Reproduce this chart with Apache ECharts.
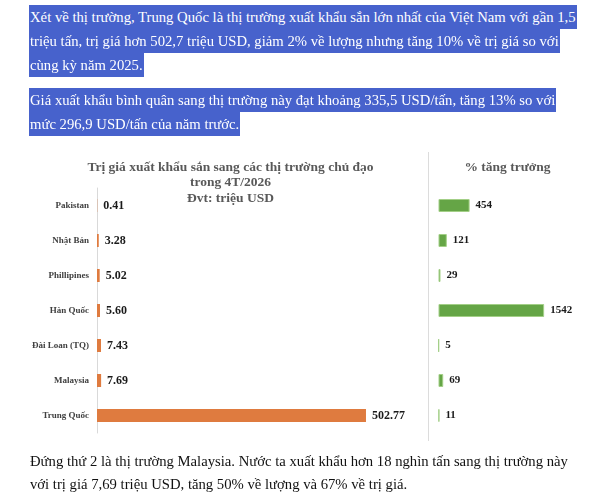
<!DOCTYPE html>
<html>
<head>
<meta charset="utf-8">
<script src="https://cdn.jsdelivr.net/npm/echarts@6/dist/echarts.min.js"></script>
<style>
  html, body { margin: 0; padding: 0; background: #ffffff; }
  #wrap { position: relative; width: 607px; height: 500px; overflow: hidden; }
  #chart { position: absolute; left: 0; top: 0; width: 607px; height: 500px; }
  .ln { position: absolute; white-space: nowrap; font-family: 'Liberation Serif', 'Times New Roman', serif; font-size: 14.7px; }
  .hl { background: #4762cc; color: #ffffff; height: 24px; line-height: 24px; padding: 0 1px; }
  .pl { color: #111111; height: 23px; line-height: 23px; }
</style>
</head>
<body>
<div id="wrap">
  <div id="chart"></div>
  <div class="ln hl" style="left:29px; top:5px;">Xét về thị trường, Trung Quốc là thị trường xuất khẩu sắn lớn nhất của Việt Nam với gần 1,5</div>
  <div class="ln hl" style="left:29px; top:29px;">triệu tấn, trị giá hơn 502,7 triệu USD, giảm 2% về lượng nhưng tăng 10% về trị giá so với</div>
  <div class="ln hl" style="left:29px; top:53px;">cùng kỳ năm 2025.</div>
  <div class="ln hl" style="left:29px; top:88px;">Giá xuất khẩu bình quân sang thị trường này đạt khoảng 335,5 USD/tấn, tăng 13% so với</div>
  <div class="ln hl" style="left:29px; top:112px;">mức 296,9 USD/tấn của năm trước.</div>
  <div class="ln pl" style="left:30px; top:450px;">Đứng thứ 2 là thị trường Malaysia. Nước ta xuất khẩu hơn 18 nghìn tấn sang thị trường này</div>
  <div class="ln pl" style="left:30px; top:473px;">với trị giá 7,69 triệu USD, tăng 50% về lượng và 67% về trị giá.</div>
</div>
<script>
const categories = ['Pakistan', 'Nhật Bản', 'Phillipines', 'Hàn Quốc', 'Đài Loan (TQ)', 'Malaysia', 'Trung Quốc'];
const exportValue = [0.41, 3.28, 5.02, 5.60, 7.43, 7.69, 502.77];
const growthPct = [454, 121, 29, 1542, 5, 69, 11];
const leftTitle = 'Trị giá xuất khẩu sắn sang các thị trường chủ đạo\ntrong 4T/2026\nĐvt: triệu USD';
const rightTitle = '% tăng trưởng';

const SERIF = "'Liberation Serif', 'Times New Roman', serif";
const chart = echarts.init(document.getElementById('chart'), null, { renderer: 'canvas' });

chart.setOption({
  animation: false,
  backgroundColor: 'transparent',
  grid: [
    { left: 97, top: 188, width: 321, height: 245, containLabel: false },
    { left: 438.5, top: 188, width: 137, height: 245, containLabel: false }
  ],
  xAxis: [
    { gridIndex: 0, type: 'value', min: 0, max: 600, show: false },
    { gridIndex: 1, type: 'value', min: 0, max: 2000, show: false }
  ],
  yAxis: [
    {
      gridIndex: 0, type: 'category', inverse: true, data: categories,
      axisLine: { show: true, lineStyle: { color: '#d9d9d9', width: 1 } },
      axisTick: { show: false },
      splitLine: { show: false },
      axisLabel: { margin: 8, fontFamily: SERIF, fontWeight: 'bold', fontSize: 9, color: '#404040' }
    },
    {
      gridIndex: 1, type: 'category', inverse: true, data: categories,
      show: false
    }
  ],
  graphic: [
    {
      type: 'text', x: 230.5, y: 159.5, silent: true,
      style: {
        text: leftTitle, align: 'center', verticalAlign: 'top',
        fontFamily: SERIF, fontWeight: 'bold', fontSize: 13.5, lineHeight: 15.5, fill: '#595959'
      }
    },
    {
      type: 'text', x: 507.5, y: 159.5, silent: true,
      style: {
        text: rightTitle, align: 'center', verticalAlign: 'top',
        fontFamily: SERIF, fontWeight: 'bold', fontSize: 13.5, lineHeight: 15.5, fill: '#595959'
      }
    },
    {
      type: 'line', silent: true,
      shape: { x1: 428.5, y1: 152, x2: 428.5, y2: 441 },
      style: { stroke: '#dcdcdc', lineWidth: 1 }
    }
  ],
  series: [
    {
      type: 'bar', xAxisIndex: 0, yAxisIndex: 0, data: exportValue,
      barWidth: 13,
      itemStyle: { color: '#df7b3f' },
      label: {
        show: true, position: 'right', distance: 6,
        fontFamily: SERIF, fontWeight: 'bold', fontSize: 12, color: '#1a1a1a',
        formatter: p => Number(p.value).toFixed(2)
      }
    },
    {
      type: 'bar', xAxisIndex: 1, yAxisIndex: 1, data: growthPct,
      barWidth: 13,
      itemStyle: { color: '#65a546', borderColor: '#a3cf87', borderWidth: 1 },
      label: {
        show: true, position: 'right', distance: 6,
        fontFamily: SERIF, fontWeight: 'bold', fontSize: 11, color: '#1a1a1a'
      }
    }
  ]
});
</script>
</body>
</html>
